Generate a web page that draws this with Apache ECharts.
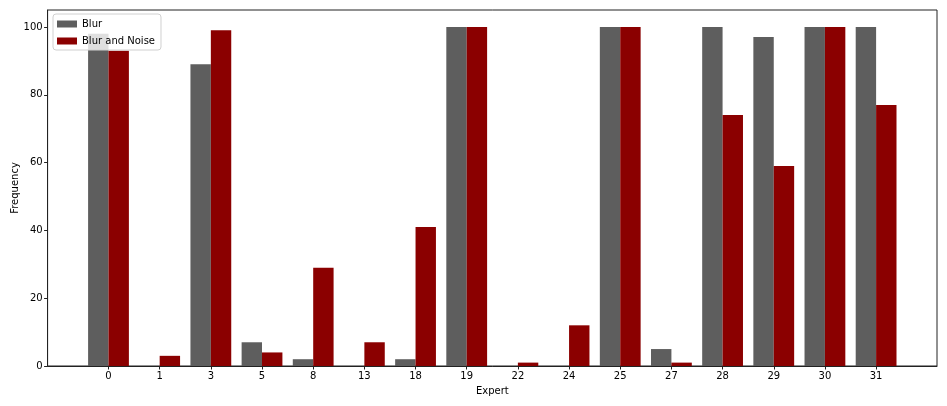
<!DOCTYPE html>
<html>
<head>
<meta charset="utf-8">
<script src="https://cdn.jsdelivr.net/npm/echarts@6/dist/echarts.min.js"></script>
<style>
  html, body { margin: 0; padding: 0; background: #fff; }
  #chart { width: 947px; height: 406px; }
</style>
</head>
<body>
<div id="chart"></div>
<script>
// experts on the x axis
const experts = ['0', '1', '3', '5', '8', '13', '18', '19', '22', '24', '25', '27', '28', '29', '30', '31']
const blur = [98, 0, 89, 7, 2, 0, 2, 100, 0, 0, 100, 5, 100, 97, 100, 100]
const blurNoise = [93, 3, 99, 4, 29, 7, 41, 100, 1, 12, 100, 1, 74, 59, 100, 77]
const yTicks = [0, 20, 40, 60, 80, 100]

const positions = experts.map((e, i) => i)

const chart = echarts.init(document.getElementById('chart'), null, { renderer: 'canvas' })

const font = 'DejaVu Sans'

var option = {
  animation: false,
  textStyle: { fontFamily: font },
  grid: {
    left: 47.6,
    right: 10,
    top: 10,
    bottom: 40,
    outerBoundsMode: 'none',
    containLabel: false,
    show: true,
    borderColor: '#222',
    borderWidth: 1,
    backgroundColor: 'transparent'
  },
  legend: {
    orient: 'vertical',
    left: 53,
    top: 14,
    icon: 'rect',
    itemWidth: 20,
    itemHeight: 7,
    itemGap: 7,
    padding: [5, 6, 4, 4],
    backgroundColor: 'rgba(255,255,255,0.8)',
    borderColor: '#d0d0d0',
    borderWidth: 1,
    borderRadius: 3,
    itemStyle: { borderWidth: 0 },
    textStyle: { fontSize: 10, color: '#000', fontFamily: font },
    data: ['Blur', 'Blur and Noise']
  },
  xAxis: {
    type: 'value',
    min: -1.19,
    max: 16.19,
    name: 'Expert',
    nameLocation: 'middle',
    nameGap: 20,
    nameMoveOverlap: false,
    nameTextStyle: { fontSize: 10, color: '#000', fontFamily: font },
    splitLine: { show: false },
    axisLine: { show: true, onZero: false, lineStyle: { color: '#222', width: 1 } },
    axisTick: { show: true, length: 3.5, lineStyle: { color: '#222' }, customValues: positions },
    axisLabel: {
      fontSize: 10,
      color: '#000',
      margin: 5,
      customValues: positions,
      formatter: v => experts[Math.round(v)]
    }
  },
  yAxis: {
    type: 'value',
    min: 0,
    max: 105,
    name: 'Frequency',
    nameLocation: 'middle',
    nameGap: 27,
    nameRotate: 90,
    nameMoveOverlap: false,
    nameTextStyle: { fontSize: 10, color: '#000', fontFamily: font },
    splitLine: { show: false },
    axisLine: { show: true, onZero: false, lineStyle: { color: '#222', width: 1 } },
    axisTick: { show: true, length: 3.5, lineStyle: { color: '#222' }, customValues: yTicks },
    axisLabel: { fontSize: 10, color: '#000', margin: 5, customValues: yTicks }
  },
  series: [{
    name: 'Blur',
    type: 'bar',
    barWidth: 20.4,
    barGap: '0%',
    itemStyle: { color: '#5e5e5e', borderWidth: 0 },
    data: blur.map((v, i) => [positions[i], v])
  }, {
    name: 'Blur and Noise',
    type: 'bar',
    barWidth: 20.4,
    barGap: '0%',
    itemStyle: { color: '#8b0000', borderWidth: 0 },
    data: blurNoise.map((v, i) => [positions[i], v])
  }]
}

chart.setOption(option)
</script>
</body>
</html>
